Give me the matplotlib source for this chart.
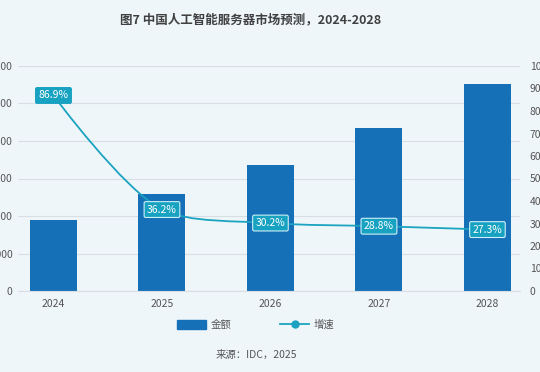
import numpy as np
import matplotlib
matplotlib.use("Agg")
import matplotlib.pyplot as plt
from matplotlib.path import Path
from matplotlib.patches import PathPatch, Patch
from matplotlib.lines import Line2D

plt.rcParams['font.family'] = ['Noto Sans CJK SC', 'DejaVu Sans']

# data (amount in million USD, growth in %)
years = ["2024", "2025", "2026", "2027", "2028"]
amount = [19000, 25900, 33700, 43400, 55200]
growth = [86.9, 36.2, 30.2, 28.8, 27.3]
left_ticks = [0, 10000, 20000, 30000, 40000, 50000, 60000]
right_ticks = [0, 10, 20, 30, 40, 50, 60, 70, 80, 90, 100]

BG = "#eff6fa"
BAR = "#1570b8"
LINE = "#1ba3c0"
GRID = "#d8dee3"
TXT = "#555555"


def smooth_path(pts, smooth=0.5):
    # echarts-like bezier smoothing, pts in display coords
    verts = [tuple(pts[0])]
    codes = [Path.MOVETO]
    cp0 = pts[0].copy()
    n = len(pts)
    for i in range(1, n):
        x, y = pts[i]
        px, py = pts[i - 1]
        dx, dy = x - px, y - py
        if i == n - 1:
            cp1 = np.array([x, y])
            nxt = None
        else:
            nx, ny = pts[i + 1]
            vx, vy = nx - px, ny - py
            len_prev = np.hypot(dx, dy)
            len_next = np.hypot(nx - x, ny - y)
            r = len_next / (len_next + len_prev)
            ncx = x + vx * smooth * r
            ncy = y + vy * smooth * r
            ncx = min(ncx, max(nx, x)); ncx = max(ncx, min(nx, x))
            ncy = min(ncy, max(ny, y)); ncy = max(ncy, min(ny, y))
            vx, vy = ncx - x, ncy - y
            c1x = x - vx * len_prev / len_next
            c1y = y - vy * len_prev / len_next
            c1x = min(c1x, max(px, x)); c1x = max(c1x, min(px, x))
            c1y = min(c1y, max(py, y)); c1y = max(c1y, min(py, y))
            vx, vy = x - c1x, y - c1y
            cp1 = np.array([c1x, c1y])
            nxt = np.array([x + vx * len_next / len_prev, y + vy * len_next / len_prev])
        verts += [tuple(cp0), tuple(cp1), (x, y)]
        codes += [Path.CURVE4] * 3
        if nxt is not None:
            cp0 = nxt
    return np.array(verts), codes


fig = plt.figure(figsize=(5.4, 3.72), dpi=100)
fig.patch.set_facecolor(BG)
ax = fig.add_axes([18 / 540, 1 - 291 / 372, 502 / 540, 225 / 372])
ax.set_facecolor(BG)
ax2 = ax.twinx()

x = np.arange(len(years))
ax.bar(x, amount, width=0.433, color=BAR, zorder=2)
ax.set_xlim(-0.327, 4.30)
ax.set_ylim(0, 60000)
ax.set_yticks(left_ticks)
ax.set_yticklabels([str(v) for v in left_ticks])
ax.set_xticks(x)
ax.set_xticklabels(years)
ax.grid(axis="y", color=GRID, linewidth=0.8, zorder=0)
ax.set_axisbelow(True)
ax.tick_params(axis="y", length=0, pad=4, labelsize=7.5, labelcolor=TXT)
ax.tick_params(axis="x", length=0, pad=6, labelsize=7.5, labelcolor=TXT)
for s in ["top", "right", "left"]:
    ax.spines[s].set_visible(False)
ax.spines["bottom"].set_color(GRID)

ax2.set_ylim(0, 100)
ax2.set_yticks(right_ticks)
ax2.tick_params(axis="y", length=0, pad=7, labelsize=7.5, labelcolor=TXT)
for s in ax2.spines.values():
    s.set_visible(False)

# smooth growth line
disp = ax2.transData.transform(np.column_stack([x, growth]))
verts, codes = smooth_path(disp, smooth=0.3)
verts = ax2.transData.inverted().transform(verts)
ax2.add_patch(PathPatch(Path(verts, codes), fill=False, edgecolor=LINE, linewidth=1.3, zorder=3))
ax2.plot(x, growth, "o", color=LINE, markersize=4, zorder=3)

for i, g in enumerate(growth):
    ec = LINE if i == 0 else "#cdeff6"
    ax2.text(i, g, f"{g}%", ha="center", va="center", fontsize=7.5, color="white", zorder=5,
             bbox=dict(boxstyle="round,pad=0.28,rounding_size=0.15", fc="#18a2c2", ec=ec, lw=0.8))

fig.text(251 / 540, 1 - 20 / 372, "图7 中国人工智能服务器市场预测，2024-2028", ha="center", va="center",
         fontsize=9, fontweight="bold", color="#404040")

handles = [Patch(facecolor=BAR, edgecolor=BAR),
           Line2D([0], [0], color=LINE, marker="o", markersize=5, linewidth=1.3)]
fig.legend(handles, ["金额", "增速"], ncol=2, loc="center", bbox_to_anchor=(256 / 540, 1 - 325 / 372),
           frameon=False, fontsize=7.5, labelcolor=TXT, handlelength=2.7, handleheight=1.0,
           handletextpad=0.5, columnspacing=4.7)

fig.text(256 / 540, 1 - 355 / 372, "来源：IDC，2025", ha="center", va="center", fontsize=7.5, color=TXT)

fig.savefig("out.png", dpi=100, facecolor=BG)
